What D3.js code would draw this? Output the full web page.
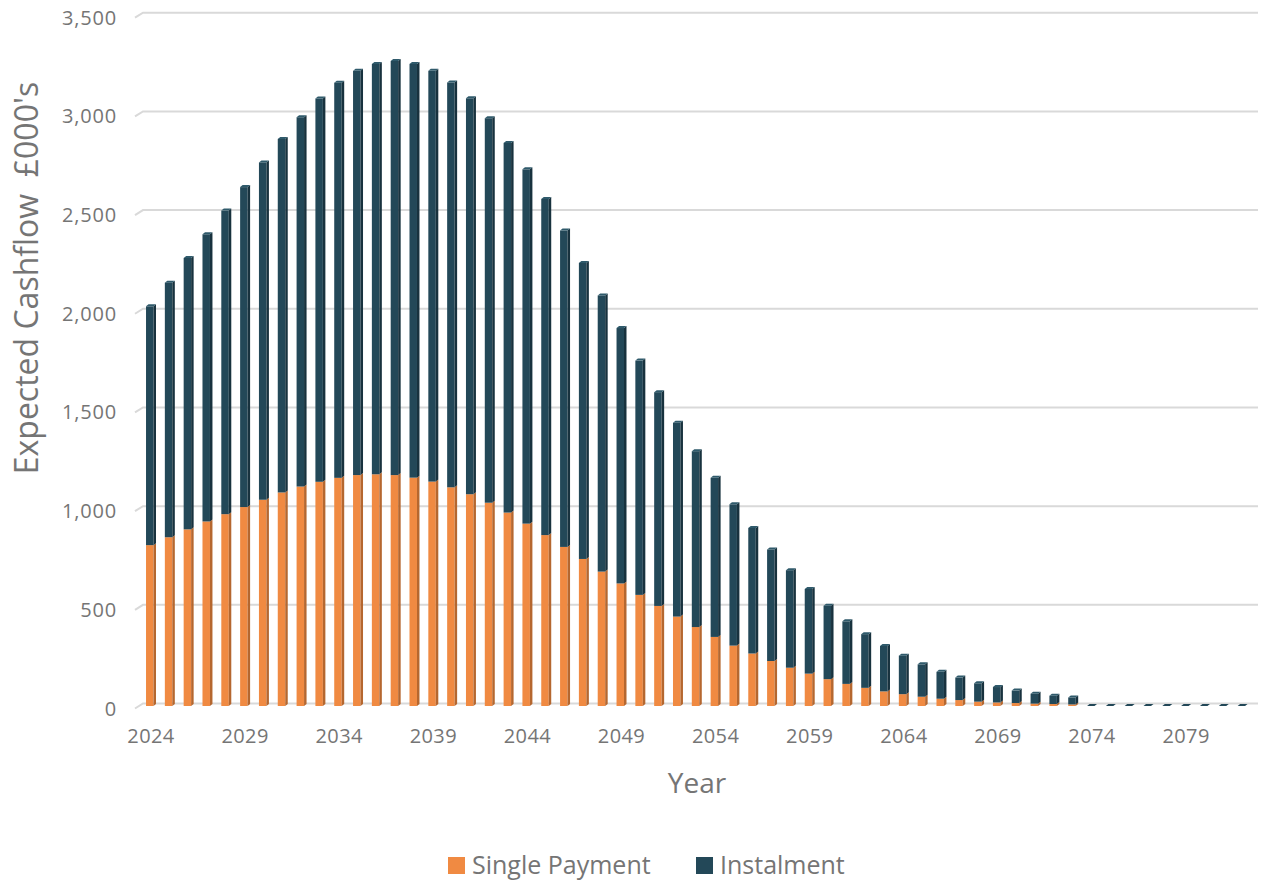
<!DOCTYPE html>
<html>
<head>
<meta charset="utf-8">
<script src="https://cdn.jsdelivr.net/npm/d3@7"></script>
<style>
  body { margin: 0; background: #fff; }
  text { font-family: "Open Sans", sans-serif; fill: #757575; }
</style>
</head>
<body>
<div id="vis"></div>
<script>
// years on the x axis
var years = d3.range(2024, 2083);

// single payment part (£000's)
var singlePayment = [
  815, 855, 895, 935, 972, 1008, 1045, 1082, 1112, 1136,
  1156, 1170, 1174, 1170, 1157, 1137, 1108, 1073, 1030, 980,
  924, 866, 806, 745, 681, 621, 563, 507, 453, 400,
  350, 306, 266, 228, 194, 164, 136, 112, 92, 74,
  60, 47, 37, 30, 22, 18, 15, 12, 10, 8,
  0, 0, 0, 0, 0, 0, 0, 0, 0
];

// instalment part (£000's)
var instalment = [
  1210, 1290, 1375, 1455, 1538, 1621, 1709, 1791, 1871, 1942,
  2002, 2048, 2079, 2098, 2096, 2081, 2051, 2006, 1948, 1873,
  1795, 1703, 1603, 1500, 1399, 1294, 1187, 1083, 982, 891,
  806, 716, 636, 565, 494, 429, 372, 317, 272, 230,
  195, 164, 136, 114, 93, 78, 63, 50, 42, 35,
  0, 0, 0, 0, 0, 0, 0, 0, 0
];

var yTicks = [0, 500, 1000, 1500, 2000, 2500, 3000, 3500];
var xTickYears = [2024, 2029, 2034, 2039, 2044, 2049, 2054, 2059, 2064, 2069, 2074, 2079];

var seriesNames = ["Single Payment", "Instalment"];
var colors = { front: ["#F08A42", "#234858"], side: ["#B5672F", "#18323E"] };

var width = 1261, height = 881;
var margin = { top: 12.7, left: 141.6, right: 9, bottom: 177.5 };

var svg = d3.select("#vis").append("svg")
  .attr("width", width)
  .attr("height", height);

var x = d3.scaleBand()
  .domain(years)
  .range([margin.left, width - margin.right])
  .paddingInner(0.47)
  .paddingOuter(0.235);

var y = d3.scaleLinear()
  .domain([0, 3500])
  .range([height - margin.bottom, margin.top]);

// the front of the 3D floor sits a little below the back-wall zero line
var floor = 2.5;

// gridlines (with the little 3D corner at the left)
var grid = svg.append("g").attr("class", "grid");
yTicks.forEach(function(t) {
  grid.append("path")
    .attr("d", "M135," + (y(t) + 5) + "L143," + y(t) + "L1258," + y(t))
    .attr("fill", "none")
    .attr("stroke", "#d9d9d9")
    .attr("stroke-width", 2);
});

// y axis labels
svg.append("g").selectAll("text")
  .data(yTicks).enter().append("text")
  .attr("x", 117)
  .attr("y", function(d) { return y(d) + 5; })
  .attr("dy", "0.35em")
  .attr("text-anchor", "end")
  .style("font-size", "20px")
  .style("letter-spacing", "0.8px")
  .text(function(d) { return d3.format(",")(d); });

// stacked data
var rows = years.map(function(yr, i) {
  return { year: yr, single: singlePayment[i], instalment: instalment[i] };
});
var stack = d3.stack().keys(["single", "instalment"]);
var layers = stack(rows);

var bw = x.bandwidth();
var side = 2.5;
var depth = 2;

function yb(v) { return y(v) + floor; }

var bars = svg.append("g").attr("class", "bars");
layers.forEach(function(layer, k) {
  var g = bars.append("g");
  var nonzero = layer.filter(function(d) { return d[1] - d[0] > 0; });
  // front face
  g.selectAll("rect.front").data(nonzero).enter().append("rect")
    .attr("class", "front")
    .attr("x", function(d) { return x(d.data.year); })
    .attr("y", function(d) { return yb(d[1]); })
    .attr("width", bw - side)
    .attr("height", function(d) { return yb(d[0]) - yb(d[1]); })
    .attr("fill", colors.front[k]);
  // right side face
  g.selectAll("path.side").data(nonzero).enter().append("path")
    .attr("class", "side")
    .attr("d", function(d) {
      var x0 = x(d.data.year) + bw - side;
      return "M" + x0 + "," + yb(d[1]) + "L" + (x0 + side) + "," + (yb(d[1]) - depth) +
        "L" + (x0 + side) + "," + (yb(d[0]) - depth) + "L" + x0 + "," + yb(d[0]) + "Z";
    })
    .attr("fill", colors.side[k]);
  // top face of the upper segment
  if (k === 1) {
    g.selectAll("path.top").data(nonzero).enter().append("path")
      .attr("class", "top")
      .attr("d", function(d) {
        var x0 = x(d.data.year), yt = yb(d[1]);
        return "M" + x0 + "," + yt + "L" + (x0 + side) + "," + (yt - depth) +
          "L" + (x0 + bw) + "," + (yt - depth) + "L" + (x0 + bw - side) + "," + yt + "Z";
      })
      .attr("fill", "#2f5a6b");
  }
});

// zero-value years still show a flat top
var zeros = rows.filter(function(d) { return d.single + d.instalment === 0; });
bars.append("g").selectAll("path").data(zeros).enter().append("path")
  .attr("d", function(d) {
    var x0 = x(d.year), yt = yb(0);
    return "M" + x0 + "," + yt + "L" + (x0 + side) + "," + (yt - depth) +
      "L" + (x0 + bw) + "," + (yt - depth) + "L" + (x0 + bw - side) + "," + yt + "Z";
  })
  .attr("fill", "#234858");

// x axis labels
svg.append("g").selectAll("text")
  .data(xTickYears).enter().append("text")
  .attr("x", function(d) { return x(d) + bw / 2; })
  .attr("y", 736)
  .attr("dy", "0.35em")
  .attr("text-anchor", "middle")
  .style("font-size", "20px")
  .style("letter-spacing", "0.4px")
  .text(function(d) { return d; });

// axis titles
svg.append("text")
  .attr("x", 697)
  .attr("y", 783)
  .attr("dy", "0.35em")
  .attr("text-anchor", "middle")
  .style("font-size", "28px")
  .text("Year");

svg.append("text")
  .attr("transform", "translate(27,278) rotate(-90)")
  .attr("dy", "0.35em")
  .attr("text-anchor", "middle")
  .style("font-size", "32px")
  .style("white-space", "pre")
  .text("Expected Cashflow  £000's");

// legend
var legendX = [448, 696];
var legend = svg.append("g").attr("class", "legend");
seriesNames.forEach(function(name, i) {
  legend.append("rect")
    .attr("x", legendX[i])
    .attr("y", 857)
    .attr("width", 17)
    .attr("height", 17)
    .attr("fill", colors.front[i]);
  legend.append("text")
    .attr("x", legendX[i] + 24)
    .attr("y", 865)
    .attr("dy", "0.35em")
    .style("font-size", "25px")
    .text(name);
});
</script>
</body>
</html>
